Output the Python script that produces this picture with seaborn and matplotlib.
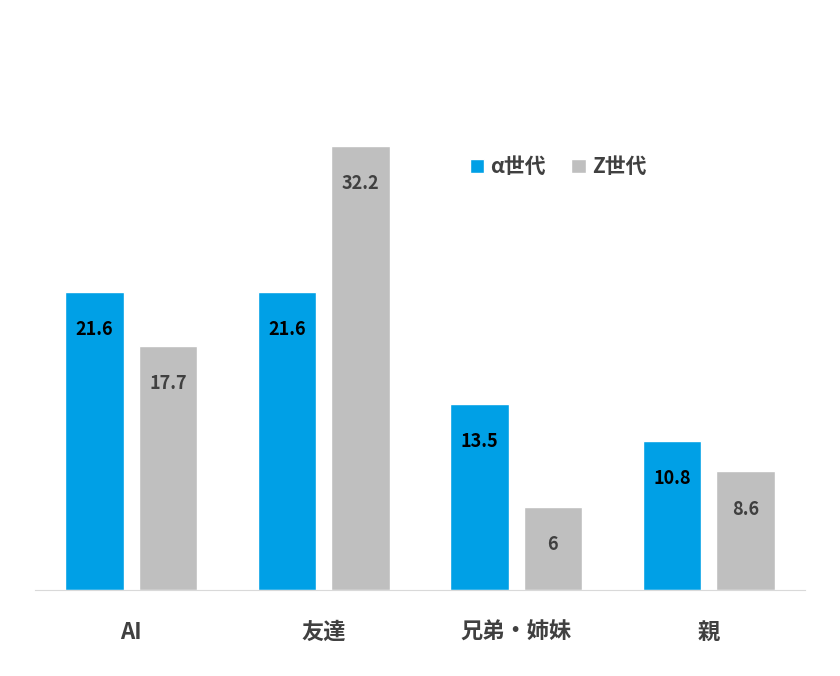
import matplotlib
matplotlib.use("Agg")
import matplotlib.pyplot as plt
import seaborn as sns
import pandas as pd

categories = ["AI", "友達", "兄弟・姉妹", "親"]
series = ["α世代", "Z世代"]
alpha_vals = [21.6, 21.6, 13.5, 10.8]
z_vals = [17.7, 32.2, 6, 8.6]

df = pd.DataFrame({
    "cat": categories * 2,
    "series": [series[0]] * 4 + [series[1]] * 4,
    "val": alpha_vals + z_vals,
})

sns.set_style("white")
plt.rcParams['font.family'] = ['Noto Sans CJK JP', 'DejaVu Sans']

fig = plt.figure(figsize=(8.4, 6.76), dpi=100)
ax = fig.add_axes([35/840, 1-590/676, 770/840, 552/676])
sns.barplot(data=df, x="cat", y="val", hue="series", order=categories,
            hue_order=series, palette=["#00A0E6", "#BFBFBF"], width=0.76,
            gap=0.2, ax=ax, saturation=1)
ax.set_ylim(0, 40)
ax.set_xlim(-0.5, 3.5)
ax.set_xlabel("")
ax.set_ylabel("")
ax.set_yticks([])
for s in ["top", "left", "right"]:
    ax.spines[s].set_visible(False)
ax.spines["bottom"].set_color("#D9D9D9")
ax.tick_params(axis="x", length=0, pad=22, labelsize=16)
for t in ax.get_xticklabels():
    t.set_fontweight("bold")
    t.set_color("#404040")
colors = ["#000000", "#404040"]
for c, col in zip(ax.containers, colors):
    ax.bar_label(c, fmt="%g", padding=-34, fontsize=13, fontweight="bold", color=col)
ax.legend(loc="upper left", bbox_to_anchor=(0.54, 0.82), ncol=2, frameon=False,
          fontsize=15, handlelength=0.7, handleheight=0.7, columnspacing=1.2,
          handletextpad=0.3, prop={'weight': 'bold', 'size': 15})
for t in ax.get_legend().get_texts():
    t.set_color("#404040")
fig.savefig("out.png", dpi=100)
